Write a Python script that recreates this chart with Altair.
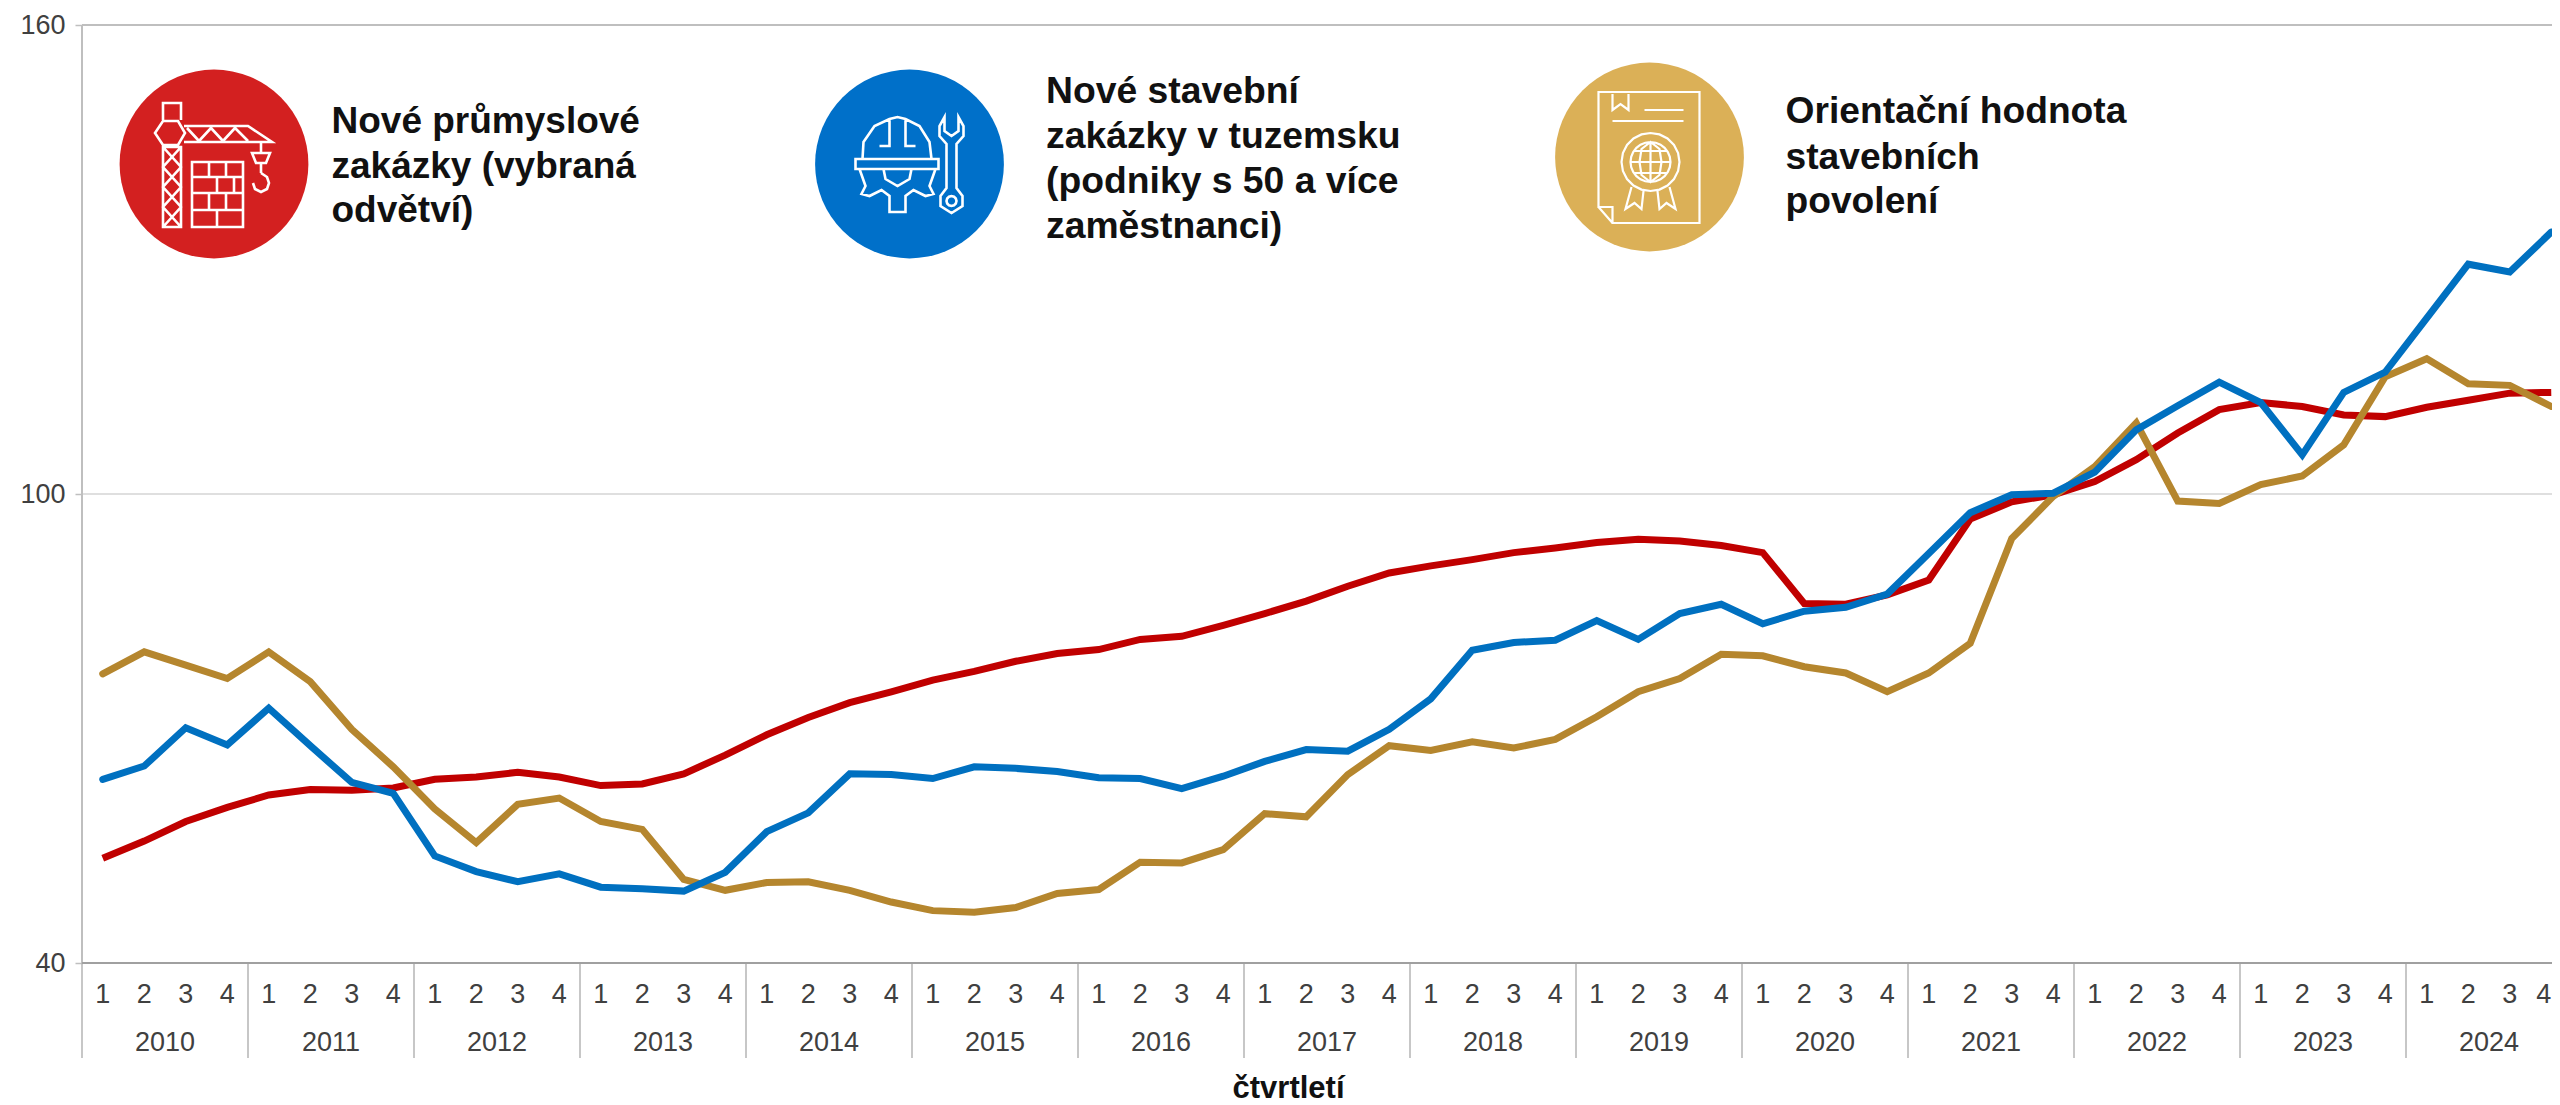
import re
import math
import altair as alt
import pandas as pd

years = list(range(2010, 2025))
quarter_labels = ["1", "2", "3", "4"]

red_values = [53.4, 55.6, 58.1, 59.9, 61.5, 62.2, 62.1, 62.4, 63.5, 63.8, 64.4, 63.8, 62.7, 62.9, 64.2, 66.6, 69.2, 71.4, 73.3, 74.7,
              76.2, 77.3, 78.6, 79.6, 80.1, 81.4, 81.8, 83.2, 84.7, 86.3, 88.2, 89.9, 90.8, 91.6, 92.5, 93.1, 93.8, 94.2, 94.0, 93.4,
              92.5, 86.0, 85.9, 87.1, 89.0, 96.8, 99.0, 99.9, 101.6, 104.4, 107.8, 110.8, 111.7, 111.2, 110.1, 109.9, 111.1, 112.0, 112.9, 113.0]
blue_values = [63.5, 65.2, 70.1, 67.9, 72.6, 67.8, 63.1, 61.7, 53.7, 51.7, 50.4, 51.4, 49.7, 49.5, 49.2, 51.6, 56.8, 59.2, 64.2, 64.1,
               63.6, 65.1, 64.9, 64.5, 63.7, 63.6, 62.3, 63.9, 65.8, 67.3, 67.1, 69.9, 73.8, 80.0, 81.0, 81.3, 83.8, 81.4, 84.7, 85.9,
               83.4, 85.0, 85.5, 87.2, 92.4, 97.6, 99.9, 100.1, 102.8, 108.2, 111.3, 114.3, 111.7, 105.0, 113.0, 115.6, 122.5, 129.4, 128.4, 133.5]
gold_values = [77.0, 79.8, 78.1, 76.4, 79.8, 76.0, 69.9, 65.1, 59.7, 55.4, 60.3, 61.1, 58.1, 57.1, 50.7, 49.3, 50.3, 50.4, 49.3, 47.8,
               46.7, 46.5, 47.1, 48.9, 49.4, 52.9, 52.8, 54.5, 59.1, 58.7, 64.1, 67.8, 67.2, 68.3, 67.5, 68.6, 71.5, 74.7, 76.4, 79.5,
               79.3, 77.9, 77.1, 74.7, 77.1, 80.9, 94.3, 99.7, 103.5, 109.1, 99.1, 98.8, 101.2, 102.3, 106.3, 115.0, 117.3, 114.1, 113.9, 111.2]

red_lines = ["Nové průmyslové", "zakázky (vybraná", "odvětví)"]
blue_lines = ["Nové stavební", "zakázky v tuzemsku", "(podniky s 50 a více", "zaměstnanci)"]
gold_lines = ["Orientační hodnota", "stavebních", "povolení"]

x_title = "čtvrtletí"
y_ticks = [40, 100, 160]

# ---- layout (pixels in the picture; plot area starts at 82,25) ----
LEFT, TOP = 82, 25
Q_W = 41.5
WIDTH = 2470
HEIGHT = 938
X_DOMAIN = [0, WIDTH / Q_W]
FONT = "Liberation Sans"
AXIS_TEXT = "#404040"
GREY = "#bfbfbf"

x_scale = alt.Scale(domain=X_DOMAIN, nice=False, zero=False)
y_scale = alt.Scale(domain=[40, 160], nice=False)
y_axis = alt.Axis(values=y_ticks, title=None, grid=False, domain=False, ticks=True, tickSize=7,
                  tickColor=GREY, tickWidth=1.5, labelFont=FONT, labelFontSize=27, labelColor=AXIS_TEXT,
                  labelPadding=10)

positions = [i + 0.5 for i in range(len(red_values))]
one = pd.DataFrame({"a": [0]})


def px(v):
    return alt.value(v - LEFT)


def py(v):
    return alt.value(v - TOP)


def series(values, color, cap):
    d = pd.DataFrame({"q": positions, "v": values})
    return alt.Chart(d).mark_line(color=color, strokeWidth=7, strokeCap=cap).encode(
        x=alt.X("q:Q", scale=x_scale, axis=None),
        y=alt.Y("v:Q", scale=y_scale, axis=y_axis),
    )


def hrule(value, color, width):
    d = pd.DataFrame({"v": [value]})
    return alt.Chart(d).mark_rule(color=color, strokeWidth=width).encode(
        y=alt.Y("v:Q", scale=y_scale, axis=y_axis))


dividers = pd.DataFrame({"q": [i * 4 for i in range(len(years))]})
divider_layer = alt.Chart(dividers).mark_rule(color="#b4b4b4", strokeWidth=1.5).encode(
    x=alt.X("q:Q", scale=x_scale, axis=None), y=py(963), y2=py(1058))
left_line = alt.Chart(one).mark_rule(color=GREY, strokeWidth=2).encode(x=px(82), y=py(25), y2=py(963))

n_q = len(positions)
quarters = pd.DataFrame({"q": positions[:-1], "t": [quarter_labels[i % 4] for i in range(n_q - 1)]})
quarter_layer = alt.Chart(quarters).mark_text(font=FONT, fontSize=27, color=AXIS_TEXT, baseline="middle").encode(
    x=alt.X("q:Q", scale=x_scale, axis=None), y=py(995), text="t:N")
# the final label sits at the page edge, so it is tucked in to stay whole
last_quarter = pd.DataFrame({"q": positions[-1:], "t": [quarter_labels[(n_q - 1) % 4]]})
last_layer = alt.Chart(last_quarter).mark_text(font=FONT, fontSize=27, color=AXIS_TEXT, baseline="middle",
                                               align="right").encode(
    x=alt.X("q:Q", scale=x_scale, axis=None), y=py(995), text="t:N")

year_df = pd.DataFrame({"q": [i * 4 + 2 for i in range(len(years))], "t": [str(y) for y in years]})
year_layer = alt.Chart(year_df).mark_text(font=FONT, fontSize=27, color=AXIS_TEXT, baseline="middle").encode(
    x=alt.X("q:Q", scale=x_scale, axis=None), y=py(1043), text="t:N")

title_layer = alt.Chart(one).mark_text(font=FONT, fontSize=31, fontWeight="bold", color="#111111",
                                       text=x_title, baseline="alphabetic").encode(x=px(1288.5), y=py(1098))


def disc(cx, cy, color):
    return alt.Chart(one).mark_point(shape="circle", filled=True, color=color, opacity=1, size=(2 * 94.4) ** 2,
                                     strokeWidth=0).encode(x=px(cx), y=py(cy))


def ring(cx, cy, r, n=24):
    pts = [(cx + r * math.cos(2 * math.pi * k / n), cy + r * math.sin(2 * math.pi * k / n)) for k in range(n)]
    return "M" + " L".join(f"{a:.1f} {b:.1f}" for a, b in pts) + " Z "


def icon(path, cx, cy, width=2.6):
    # the path is written in pixel offsets from the disc centre; Vega wants it in -1..1
    scaled = re.sub(r"-?\d+\.?\d*", lambda m: f"{float(m.group()) / 100:.4f}", path)
    return alt.Chart(one).mark_point(shape=scaled, filled=False, stroke="white", strokeWidth=width, opacity=1,
                                     size=200 ** 2).encode(x=px(cx), y=py(cy))


crane = (
    "M-51 -44 L-51 -61 L-33 -61 L-33 -44 "
    "M-51 -43 L-36 -43 L-29 -31 L-36 -19 L-51 -19 L-59 -31 Z "
    "M-51 -17 L-51 63 L-33 63 L-33 -17 Z "
    "M-51 -17 L-33 3 L-51 23 L-33 43 L-51 63 M-33 -17 L-51 3 L-33 23 L-51 43 L-33 63 "
    "M-30 -38 L34 -38 L58 -22 L-30 -22 "
    "M-27 -36 L-15 -23 L-3 -36 L9 -23 L21 -36 L34 -23 "
    "M47 -22 L47 -11 M38 -11 L56 -11 L52 -1 L42 -1 Z M47 -1 L47 9 "
    "M39 19 L41 25 L47 28 L53 25 L55 19 L53 13 L47 9 "
    "M-22 -2 L29 -2 L29 63 L-22 63 Z "
    "M-22 13 L29 13 M-22 29 L29 29 M-22 46 L29 46 "
    "M-5 -2 L-5 13 M12 -2 L12 13 M3 13 L3 29 M20 13 L20 29 M-5 29 L-5 46 M12 29 L12 46 M3 46 L3 63 "
)
helmet = (
    "M-54 -5 L29 -5 L29 5 L-54 5 Z "
    "M-47 -5 L-46 -22 L-35 -38 L-20 -45 L-12 -47 L-4 -45 L10 -38 L20 -22 L22 -5 "
    "M-20 -45 L-20 -18 L-30 -18 M-4 -45 L-4 -18 L6 -18 "
    "M-26 5 L-24 15 L-12 22 L0 15 L2 5 "
    "M-50 5 L-44 22 L-48 30 L-40 32 L-28 26 L-20 32 L-20 48 L-4 48 L-4 32 L4 26 L16 32 L24 30 L20 22 L26 5 "
    "M35 -47 L35 -33 L42 -28 L49 -33 L49 -47 L54 -38 L54 -28 L47 -20 L47 24 L53 32 L53 42 L42 49 L31 42 L31 32 L37 24 L37 -20 L30 -28 L30 -38 Z "
) + ring(42, 37, 5, 12)
certificate = (
    "M-51 -65 L50 -65 L50 66 L-37 66 L-37 50 L-51 50 Z "
    "M-37 66 L-51 50 "
    "M-37 -63 L-37 -47 L-29 -53 L-21 -47 L-21 -63 "
    "M-5 -47 L34 -47 M-37 -36 L34 -36 "
) + ring(1, 5, 29, 20) + ring(1, 5, 20, 24) + (
    "M1 -15 L1 25 M-19 5 L21 5 M-16 -6 L18 -6 M-16 16 L18 16 "
    "M1 -15 L-8 -8 L-10 5 L-8 18 L1 25 L10 18 L12 5 L10 -8 Z "
    "M-18 30 L-24 52 L-15 46 L-8 52 L-6 34 M20 30 L26 52 L17 46 L10 52 L8 34 "
)


def text_block(lines, x, baselines, size):
    return [
        alt.Chart(one).mark_text(font=FONT, fontSize=size, fontWeight="bold", color="#111111", align="left",
                                 baseline="alphabetic", text=t).encode(x=px(x), y=py(b))
        for t, b in zip(lines, baselines)
    ]


layers = [
    hrule(160, GREY, 2), hrule(100, "#d4d4d4", 1.5),
    left_line, divider_layer,
    series(red_values, "#C00000", "butt"),
    series(gold_values, "#B5862E", "round"),
    series(blue_values, "#0070C0", "round"),
    hrule(40, "#a0a0a0", 2),
    quarter_layer, last_layer, year_layer, title_layer,
    disc(214, 164, "#D32020"), icon(crane, 214, 164),
    disc(909.5, 164, "#0070C9"), icon(helmet, 909.5, 164),
    disc(1649.5, 157, "#DBB057"), icon(certificate, 1649.5, 157, 2.2),
]
layers += text_block(red_lines, 331.5, [133, 178, 222], 37)
layers += text_block(blue_lines, 1046, [103, 148, 193, 238], 37.3)
layers += text_block(gold_lines, 1785.5, [123, 169, 213], 37.2)

chart = alt.layer(*layers).resolve_scale(x="shared", y="shared").properties(
    width=WIDTH, height=HEIGHT,
    autosize=alt.AutoSizeParams(type="none"),
    padding={"left": LEFT - 8, "top": TOP - 8, "right": 0, "bottom": 142},
).configure_view(stroke=None)

chart.save("out.html", embed_options={"renderer": "svg", "actions": False})
